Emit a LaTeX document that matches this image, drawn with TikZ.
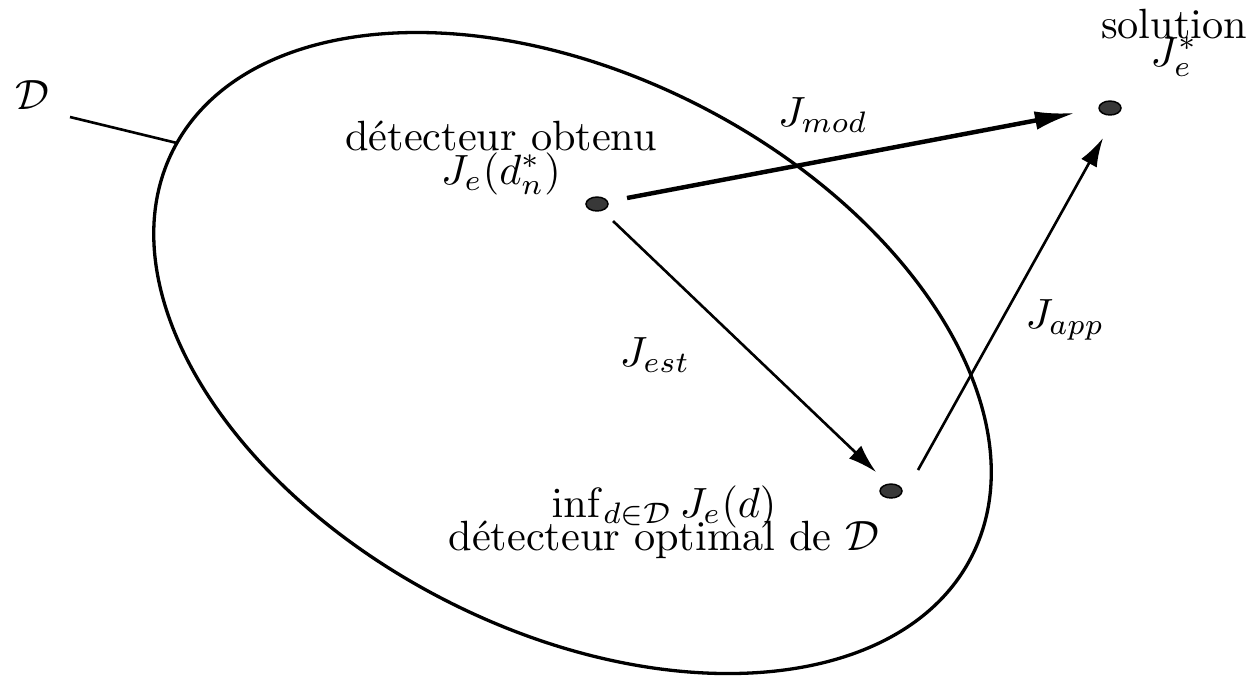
\documentclass[tikz,border=0pt]{standalone}
\usetikzlibrary{arrows.meta,shapes.geometric,calc}
\begin{document}
\begin{tikzpicture}[x=0.2364pt,y=-0.2364pt,
  ptdot/.style={ellipse, draw=black, line width=0.35pt, fill=black!78, minimum width=5.2pt, minimum height=3.3pt, inner sep=0pt},
  arrbig/.style={-{Latex[length=9.5pt,width=4.4pt]}, line width=1.05pt},
  arrthin/.style={-{Latex[length=6.8pt,width=4.2pt]}, line width=0.62pt},
  lbl/.style={inner sep=0pt},
  twoline/.style={inner sep=0pt, align=center, anchor=base,
    font={\lineskiplimit=-100pt\lineskip=0pt\baselineskip=#1}}]
\useasboundingbox (0,0) rectangle (1256,675);
% set D
\draw[line width=0.78pt, rotate around={-27:(572.5,353)}] (572.5,353) ellipse [x radius=448, y radius=278];
% points
\node[ptdot] (A) at (597,204) {};
\node[ptdot] (B) at (891,491) {};
\node[ptdot] (C) at (1110,108) {};
% texts (anchor = baseline of the last line)
\node[twoline=8.04pt] (tA) at (501,184) {détecteur obtenu\\$J_e(d_n^*)$};
\node[twoline=6.62pt] (tC) at (1174,66) {solution\\$J_e^*$};
\node[twoline=7.8pt] (tB) at (664,550) {$\inf_{d\in\mathcal{D}} J_e(d)$\\détecteur optimal de $\mathcal{D}$};
\node[lbl] (lmod) at (823,115) {$J_{mod}$};
\node[lbl] (lest) at (655,355) {$J_{est}$};
\node[lbl] (lapp) at (1065,320) {$J_{app}$};
\node[lbl] (lD) at (32,95) {$\mathcal{D}$};
% connectors
\coordinate (Dt) at (177,143);
\draw[line width=0.62pt] ($(lD)+(38,22)$) -- (Dt);
\draw[arrbig] ($(A)+(30,-6)$) -- ($(C)+(-35,5)$);
\draw[arrthin] ($(A)+(16,17)$) -- ($(B)+(-15,-19)$);
\draw[arrthin] ($(B)+(27,-21)$) -- ($(C)+(-7,30)$);
\end{tikzpicture}
\end{document}
